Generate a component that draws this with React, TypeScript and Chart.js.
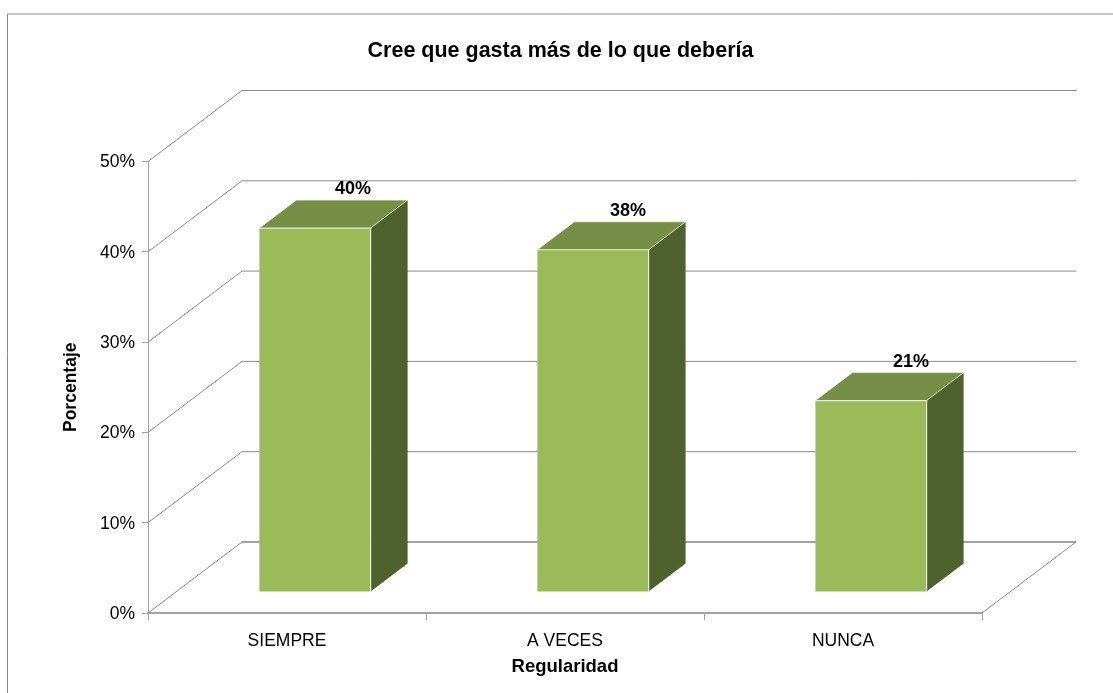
import React, { useEffect, useRef } from "react";
import { Chart, registerables } from "chart.js";

Chart.register(...registerables);

const categories = ["SIEMPRE", "A VECES", "NUNCA"];
const percentages = [40.3, 37.9, 21.2];
const yTickStep = 10;
const yMax = 50;
const chartTitle = "Cree que gasta más de lo que debería";
const xTitle = "Regularidad";
const yTitle = "Porcentaje";

const FONT = "'Liberation Sans', Arial, sans-serif";
const WALL = { dx: 94, dy: -71 };
const BAR_SHIFT = { dx: 28, dy: -21 };
const BAR_DEPTH = { dx: 37, dy: -28 };
const LABEL_DX = [38, 35, 40];
const LABEL_DY = -39;
const TITLE_SHIFT = 39;

const FRONT = "#9BBB59";
const TOP = "#778E46";
const SIDE = "#4F612D";
const EDGE = "rgba(235,240,220,0.95)";
const GRID = "#8C8C8C";
const AXIS = "#A3A3A3";

const poly = (ctx: CanvasRenderingContext2D, pts: number[][], fill?: string, stroke?: string, w = 1) => {
  ctx.beginPath();
  pts.forEach((p, i) => (i ? ctx.lineTo(p[0], p[1]) : ctx.moveTo(p[0], p[1])));
  if (fill) {
    ctx.closePath();
    ctx.fillStyle = fill;
    ctx.fill();
  }
  if (stroke) {
    ctx.strokeStyle = stroke;
    ctx.lineWidth = w;
    ctx.stroke();
  }
};

const frame = {
  id: "frame",
  afterLayout(chart: any) {
    if (chart.titleBlock) {
      chart.titleBlock.left += TITLE_SHIFT;
      chart.titleBlock.right += TITLE_SHIFT;
    }
  },
  beforeDraw(chart: any) {
    const { ctx, width, height } = chart;
    ctx.save();
    ctx.fillStyle = "#fff";
    ctx.fillRect(0, 0, width, height);
    poly(ctx, [[7.5, height], [7.5, 14], [width, 14]], undefined, "#8A8A8A", 1);
    ctx.restore();
  },
};

const walls = {
  id: "walls",
  beforeDatasetsDraw(chart: any) {
    const { ctx, chartArea: a, scales } = chart;
    const y = scales.y;
    ctx.save();
    y.ticks.forEach((t: any) => {
      const py = y.getPixelForValue(t.value);
      const isFloor = t.value === 0;
      const backY = py + WALL.dy;
      poly(ctx, [[a.left, py], [a.left + WALL.dx, backY]], undefined, GRID, 1);
      poly(ctx, [[a.left + WALL.dx, backY], [a.right + WALL.dx, backY]], undefined, isFloor ? AXIS : GRID, isFloor ? 2 : 1);
    });
    const by = y.getPixelForValue(0);
    poly(ctx, [[a.right, by], [a.right + WALL.dx, by + WALL.dy]], undefined, GRID, 1);
    ctx.translate(BAR_SHIFT.dx, BAR_SHIFT.dy);
    chart.getDatasetMeta(0).data.forEach((b: any) => {
      const l = b.x - b.width / 2;
      const r = b.x + b.width / 2;
      const { dx, dy } = BAR_DEPTH;
      poly(ctx, [[r, b.y], [r + dx, b.y + dy], [r + dx, b.base + dy], [r, b.base]], SIDE);
      poly(ctx, [[l, b.y], [l + dx, b.y + dy], [r + dx, b.y + dy], [r, b.y]], TOP);
    });
  },
  afterDatasetsDraw(chart: any) {
    const { ctx } = chart;
    chart.getDatasetMeta(0).data.forEach((b: any) => {
      const l = b.x - b.width / 2;
      const r = b.x + b.width / 2;
      const { dx, dy } = BAR_DEPTH;
      poly(ctx, [[l, b.y], [r, b.y], [r, b.base]], undefined, EDGE, 1.2);
      poly(ctx, [[l, b.y], [l + dx, b.y + dy], [r + dx, b.y + dy], [r, b.y]], undefined, EDGE, 0.8);
    });
    ctx.restore();
    ctx.save();
    ctx.fillStyle = "#000";
    ctx.font = `bold 18px ${FONT}`;
    ctx.textAlign = "center";
    ctx.textBaseline = "middle";
    chart.getDatasetMeta(0).data.forEach((b: any, i: number) => {
      ctx.fillText(`${Math.round(percentages[i])}%`, b.x + BAR_SHIFT.dx + LABEL_DX[i], b.y + BAR_SHIFT.dy + LABEL_DY);
    });
    ctx.restore();
  },
};

export default function App() {
  const ref = useRef<HTMLCanvasElement>(null);
  useEffect(() => {
    const chart = new Chart(ref.current as HTMLCanvasElement, {
      type: "bar",
      data: {
        labels: categories,
        datasets: [
          {
            data: percentages,
            backgroundColor: FRONT,
            borderWidth: 0,
            barPercentage: 0.4,
            categoryPercentage: 1,
            clip: false,
          } as any,
        ],
      },
      plugins: [frame, walls],
      options: {
        responsive: false,
        animation: false,
        layout: { padding: { left: 61, right: 131, top: 0, bottom: 14 } },
        plugins: {
          legend: { display: false },
          tooltip: { enabled: false },
          title: {
            display: true,
            text: chartTitle,
            color: "#000",
            font: { family: FONT, size: 21.5, weight: "bold" },
            padding: { top: 38, bottom: 97.7 },
          },
        },
        scales: {
          x: {
            afterFit(s: any) {
              s.height = 66;
            },
            grid: { drawOnChartArea: false, tickLength: 7, color: AXIS, lineWidth: 1 },
            border: { color: AXIS, width: 2 },
            ticks: { color: "#000", font: { family: FONT, size: 17.5 }, padding: 11 },
            title: {
              display: true,
              text: xTitle,
              color: "#000",
              font: { family: FONT, size: 18.5, weight: "bold" },
              padding: { top: 4, bottom: 1 },
            },
          },
          y: {
            min: 0,
            max: yMax,
            afterFit(s: any) {
              s.width = 87;
            },
            grid: { drawOnChartArea: false, tickLength: 6, color: AXIS, lineWidth: 1 },
            border: { color: AXIS, width: 1 },
            ticks: {
              stepSize: yTickStep,
              color: "#000",
              font: { family: FONT, size: 17.5 },
              padding: 7,
              labelOffset: 1,
              callback: (v: any) => `${v}%`,
            },
            title: {
              display: true,
              text: yTitle,
              color: "#000",
              font: { family: FONT, size: 17.5, weight: "bold" },
              padding: { top: 0, bottom: 0 },
            },
          },
        },
      } as any,
    });
    return () => chart.destroy();
  }, []);
  return (
    <div style={{ position: "fixed", left: 0, top: 0, width: 1113, height: 693, background: "#fff" }}>
      <canvas ref={ref} width={1113} height={693} style={{ display: "block" }} />
    </div>
  );
}
